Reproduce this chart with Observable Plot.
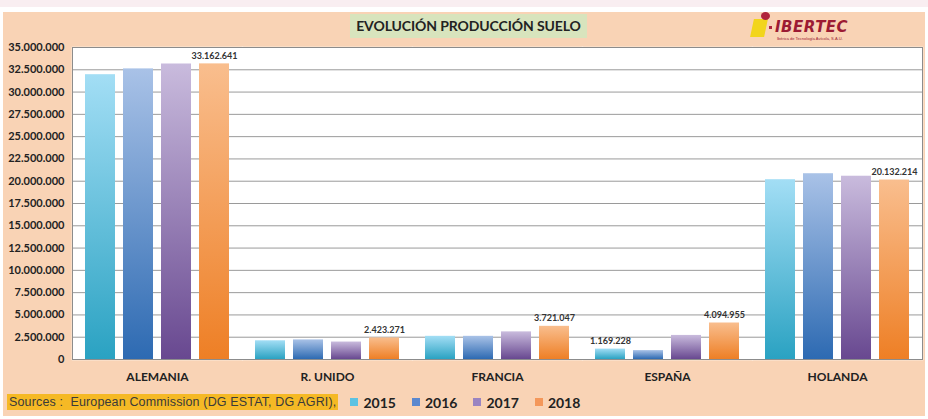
<!DOCTYPE html>
<html>
<head>
<meta charset="utf-8">
<script src="https://cdn.jsdelivr.net/npm/d3@7"></script>
<script src="https://cdn.jsdelivr.net/npm/@observablehq/plot@0.6"></script>
<style>
  html, body { margin: 0; padding: 0; background: #fff; width: 928px; height: 419px; overflow: hidden; }
  #strip { height: 7px; background: #f9eef1; }
  #gap { height: 5px; background: #fff; }
  #panel { position: relative; margin: 0 3px; height: 404px; background: #f9d3b5; }
  #header { position: relative; height: 28px; }
  #title { position: absolute; left: 347px; top: 2px; width: 237px; height: 24px; background: #d8e4bd;
           font: bold 14px Lato, sans-serif; color: #222; text-align: center; line-height: 24px; letter-spacing: -0.1px; }
  #logo { position: absolute; left: 747px; top: 0px; width: 110px; height: 28px; }
  #logo .y { position: absolute; left: 2px; top: 7px; width: 14px; height: 18px; background: #f2d51c; transform: skewX(-12deg); }
  #logo .r { position: absolute; left: 11px; top: 0px; width: 9px; height: 8px; border-radius: 50%; background: #b0243c; }
  #logo .d { position: absolute; left: 19px; top: 14px; width: 3px; height: 3px; background: #b0243c; }
  #logo .t { position: absolute; left: 25px; top: 6px; font: italic bold 15px "DejaVu Sans", sans-serif; color: #9c1b33; letter-spacing: 0.5px; }
  #logo .s { position: absolute; left: 27px; top: 24px; font: 4px Arial, sans-serif; color: #9c1b33; white-space: nowrap; }
  #chart svg { display: block; }
  #legend { position: absolute; left: 0; top: 382px; height: 16px; display: flex; align-items: center; }
  #src { margin-left: 4px; background: #f5b925; font: 12.5px "Liberation Sans", Arial, sans-serif; color: #3a3a3a; padding: 0 2px; line-height: 16px; white-space: pre; letter-spacing: 0.15px; }
  .item { display: flex; align-items: center; font: bold 14px Lato, sans-serif; color: #222; margin-left: 16px; }
  .item:first-of-type { margin-left: 12px; }
  .item .sw { width: 8px; height: 8px; margin-right: 5px; }
</style>
</head>
<body>
<div id="strip"></div>
<div id="gap"></div>
<div id="panel">
  <div id="header">
    <div id="title">EVOLUCIÓN PRODUCCIÓN SUELO</div>
    <div id="logo"><div class="y"></div><div class="r"></div><div class="d"></div><div class="t">IBERTEC</div><div class="s">Ibérica de Tecnología Avícola, S.A.U.</div></div>
  </div>
  <div id="chart"></div>
  <div id="legend"></div>
</div>
<script>
// ---- data ----
const countries = ["ALEMANIA", "R. UNIDO", "FRANCIA", "ESPAÑA", "HOLANDA"];
const years = ["2015", "2016", "2017", "2018"];
const values2015 = [31950000, 2100000, 2600000, 1169228, 20170000];
const values2016 = [32600000, 2200000, 2600000, 1000000, 20840000];
const values2017 = [33150000, 1960000, 3100000, 2700000, 20560000];
const values2018 = [33162641, 2423271, 3721047, 4094955, 20132214];
const labeled = [["ALEMANIA","2018"],["R. UNIDO","2018"],["FRANCIA","2018"],["ESPAÑA","2015"],["ESPAÑA","2018"],["HOLANDA","2018"]];
const yTicks = d3.range(0, 35000001, 2500000);
const sourceText = "Sources :  European Commission (DG ESTAT, DG AGRI),";

const series = {"2015": values2015, "2016": values2016, "2017": values2017, "2018": values2018};
const gradients = {
  "2015": ["#a3def5", "#2aa2c2"],
  "2016": ["#a9c2e7", "#2d6ab2"],
  "2017": ["#c9bbdd", "#684890"],
  "2018": ["#f9be8e", "#ee7f25"]
};
const swatch = {"2015": "#5cc2e2", "2016": "#5b88cf", "2017": "#9a84c1", "2018": "#f4975a"};

const data = [];
for (const y of years) countries.forEach((c, i) => data.push({country: c, year: y, value: series[y][i]}));
const labelData = data.filter(d => labeled.some(([c, y]) => c === d.country && y === d.year));

const loc = d3.formatLocale({decimal: ",", thousands: ".", grouping: [3], currency: ["", "€"]});
const fmt = loc.format(",d");

const plot = Plot.plot({
  width: 922,
  height: 348,
  marginLeft: 69,
  marginRight: 3,
  marginTop: 7,
  marginBottom: 29,
  style: {background: "transparent", overflow: "visible"},
  fx: {domain: countries, padding: 0, label: null},
  x: {domain: years, paddingInner: 0.2, paddingOuter: 0.28, axis: null},
  y: {domain: [0, 35000000], axis: null},
  color: {type: "ordinal", domain: years, range: years.map(y => `url(#grad${y})`)},
  marks: [
    Plot.frame({fill: "white", stroke: "white", strokeWidth: 1.5}),
    Plot.gridY(yTicks, {stroke: "#9a9a9a", strokeOpacity: 1, strokeWidth: 1}),
    Plot.ruleY([0, 35000000], {stroke: "#8c8c8c", strokeWidth: 1}),
    Plot.frame({anchor: "left", facetAnchor: "left", stroke: "#8c8c8c"}),
    Plot.frame({anchor: "right", facetAnchor: "right", stroke: "#8c8c8c"}),
    Plot.barY(data, {fx: "country", x: "year", y: "value", fill: "year"}),
    Plot.text(labelData, {fx: "country", x: "year", y: "value", text: d => fmt(d.value), dy: -8,
      fontSize: 9, fontWeight: "bold", fill: "#333", fontFamily: "Lato, sans-serif"}),
    Plot.axisY(yTicks, {anchor: "left", tickSize: 0, tickPadding: 8, tickFormat: fmt,
      fontSize: 11, fontWeight: "bold", fill: "#222", fontFamily: "Lato, sans-serif", label: null}),
    Plot.axisFx({anchor: "bottom", tickSize: 0, tickPadding: 13, fontSize: 12, fontWeight: "bold",
      fill: "#222", fontFamily: "Lato, sans-serif", label: null})
  ]
});

// gradient definitions
const defs = d3.create("svg:defs");
for (const y of years) {
  const g = defs.append("linearGradient").attr("id", `grad${y}`).attr("x1", 0).attr("y1", 0).attr("x2", 0).attr("y2", 1);
  g.append("stop").attr("offset", "0%").attr("stop-color", gradients[y][0]);
  g.append("stop").attr("offset", "100%").attr("stop-color", gradients[y][1]);
}
plot.insertBefore(defs.node(), plot.firstChild);
document.getElementById("chart").appendChild(plot);

// legend
const legend = d3.select("#legend");
legend.append("span").attr("id", "src").text(sourceText);
for (const y of years) {
  const it = legend.append("div").attr("class", "item");
  it.append("div").attr("class", "sw").style("background", swatch[y]);
  it.append("span").text(y);
}
</script>
</body>
</html>
